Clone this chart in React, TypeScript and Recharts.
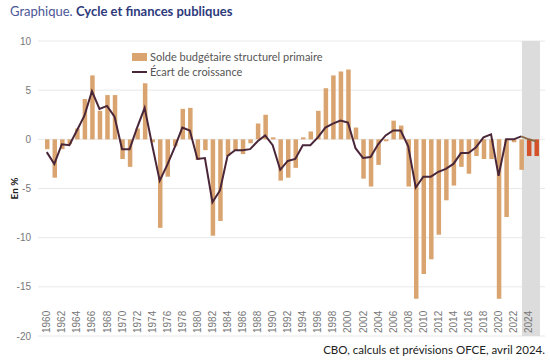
import {
  ComposedChart,
  Bar,
  Cell,
  Line,
  XAxis,
  YAxis,
  CartesianGrid,
  ReferenceArea,
  Legend,
} from 'recharts'

// ── Data ─────────────────────────────────────────────────────────────────────

const years = [
  1960, 1961, 1962, 1963, 1964, 1965, 1966, 1967, 1968, 1969,
  1970, 1971, 1972, 1973, 1974, 1975, 1976, 1977, 1978, 1979,
  1980, 1981, 1982, 1983, 1984, 1985, 1986, 1987, 1988, 1989,
  1990, 1991, 1992, 1993, 1994, 1995, 1996, 1997, 1998, 1999,
  2000, 2001, 2002, 2003, 2004, 2005, 2006, 2007, 2008, 2009,
  2010, 2011, 2012, 2013, 2014, 2015, 2016, 2017, 2018, 2019,
  2020, 2021, 2022, 2023, 2024, 2025,
]

// Solde budgétaire structurel primaire (bars)
const solde = [
  -1.0, -3.9, -1.0, -0.5, 1.1, 4.1, 6.5, 2.9, 4.5, 4.5,
  -2.0, -2.8, 1.1, 5.7, -0.3, -9.0, -3.8, -0.7, 3.1, 3.2,
  -2.1, -1.1, -9.8, -8.3, -1.7, -1.1, -1.5, -0.4, 1.6, 2.5,
  0.2, -4.2, -3.9, -2.9, 0.2, 0.8, 2.9, 5.2, 6.5, 6.9,
  7.1, 1.2, -4.0, -4.8, -2.6, -0.2, 1.9, 1.4, -4.8, -16.2,
  -13.7, -12.2, -9.7, -6.2, -4.7, -2.8, -3.5, -1.7, -2.0, -2.0,
  -16.2, -7.9, -0.3, -3.1, -1.7, -1.7,
]

// Écart de croissance (line)
const ecart = [
  -1.3, -2.5, -0.5, -0.6, 0.9, 2.4, 4.9, 3.1, 3.4, 2.3,
  -1.0, -1.0, 1.2, 3.2, -0.6, -4.2, -2.6, -0.8, 1.2, 0.9,
  -2.0, -1.9, -6.4, -5.2, -1.7, -1.1, -1.1, -1.0, -0.2, 0.4,
  -0.6, -3.1, -2.2, -2.0, -0.6, -0.6, 0.2, 1.2, 1.6, 1.9,
  1.7, -0.9, -1.9, -1.8, -0.5, 0.4, 0.9, 0.9, -0.7, -4.9,
  -3.8, -3.8, -3.3, -3.0, -2.5, -1.4, -1.4, -0.8, 0.2, 0.5,
  -3.7, 0.0, 0.0, 0.3, 0.0, -0.2,
]

const lastObserved = 2023 // 2024-2025 are OFCE forecasts
const yTicks = [-20, -15, -10, -5, 0, 5, 10]

const data = years.map((year, i) => ({
  year: String(year),
  solde: solde[i],
  ecart: year <= lastObserved ? ecart[i] : null,
  prevision: year >= lastObserved ? ecart[i] : null,
  forecast: year > lastObserved,
}))

const BAR = '#d9a46f'
const BAR_FORECAST = '#d4522a'
const LINE = '#4a2639'
const LINE_FORECAST = '#8c6a46'
const FONT = 'Lato, "Open Sans", sans-serif'

function YearTick({ x, y, payload }: any) {
  return (
    <text
      transform={`translate(${x},${y - 3}) rotate(-90)`}
      textAnchor="start"
      dominantBaseline="central"
      fontSize={10}
      fontFamily='"Liberation Sans", Arial, sans-serif'
      fill="#777"
    >
      {payload.value}
    </text>
  )
}

// forecast shading starts a little before the 2024 band, like the original
function ForecastShade({ x, y, width, height }: any) {
  return <rect x={x - 3} y={y} width={width + 3} height={height} fill="#dcdcdc" />
}

function ChartLegend() {
  const items = [
    { label: 'Solde budgétaire structurel primaire', kind: 'bar' },
    { label: 'Écart de croissance', kind: 'line' },
  ]
  return (
    <div style={{ fontFamily: FONT, fontSize: 11, color: '#555' }}>
      {items.map((it) => (
        <div key={it.label} style={{ display: 'flex', alignItems: 'center', height: 15 }}>
          <svg width={15} height={8} style={{ marginRight: 3 }}>
            {it.kind === 'bar'
              ? <rect x={0} y={0} width={15} height={8} fill={BAR} />
              : <line x1={0} y1={4} x2={15} y2={4} stroke={LINE} strokeWidth={2} />}
          </svg>
          <span>{it.label}</span>
        </div>
      ))}
    </div>
  )
}

export default function App() {
  return (
    <div style={{ position: 'absolute', left: 0, top: 0, width: 550, height: 360, background: '#fff' }}>
      <div style={{ position: 'absolute', left: 10, top: 3, fontFamily: FONT, fontSize: 13, color: '#2e3a7c', whiteSpace: 'nowrap' }}>
        <span style={{ color: '#4a5697' }}>Graphique. </span>
        <span style={{ fontWeight: 700 }}>Cycle et finances publiques</span>
      </div>

      <ComposedChart
        width={550}
        height={360}
        data={data}
        margin={{ top: 41, right: 5, bottom: 0, left: 8 }}
        barSize={4.5}
      >
        <CartesianGrid horizontal vertical={false} stroke="#e8e8e8" />
        <ReferenceArea x1="2024" shape={<ForecastShade />} ifOverflow="visible" />
        <XAxis
          dataKey="year"
          interval={1}
          tick={<YearTick />}
          tickLine={false}
          axisLine={false}
          tickSize={0}
          tickMargin={0}
          height={24}
          padding={{ left: 5, right: 5 }}
        />
        <YAxis
          domain={[-20, 10]}
          ticks={yTicks}
          width={30}
          tickLine={false}
          axisLine={false}
          tickSize={0}
          tickMargin={7}
          tick={{ fontSize: 10, fill: '#777', fontFamily: '"Liberation Sans", Arial, sans-serif' }}
          label={{ value: 'En %', angle: -90, position: 'insideLeft', offset: 6, style: { fontSize: 10, fontWeight: 700, fill: '#222', fontFamily: FONT, textAnchor: 'middle' } }}
        />
        <Legend
          layout="vertical"
          align="center"
          verticalAlign="middle"
          content={<ChartLegend />}
          wrapperStyle={{ left: 132, top: 49, width: 'auto' }}
        />
        <Bar dataKey="solde" name="Solde budgétaire structurel primaire" fill={BAR} isAnimationActive={false}>
          {data.map((d) => (
            <Cell key={d.year} fill={d.forecast ? BAR_FORECAST : BAR} />
          ))}
        </Bar>
        <Line
          type="linear"
          dataKey="ecart"
          name="Écart de croissance"
          stroke={LINE}
          strokeWidth={2}
          dot={false}
          isAnimationActive={false}
        />
        <Line
          type="linear"
          dataKey="prevision"
          stroke={LINE_FORECAST}
          strokeWidth={2}
          dot={false}
          legendType="none"
          isAnimationActive={false}
        />
      </ComposedChart>

      <div style={{ position: 'absolute', right: 5, top: 343, fontFamily: FONT, fontSize: 11.5, color: '#222', whiteSpace: 'nowrap' }}>
        CBO, calculs et prévisions OFCE, avril 2024.
      </div>
    </div>
  )
}
